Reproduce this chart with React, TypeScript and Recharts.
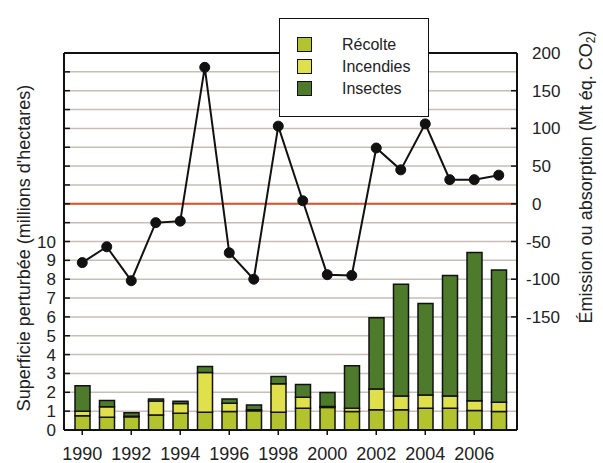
import React from 'react';
import {
  ComposedChart,
  Bar,
  Line,
  XAxis,
  YAxis,
  CartesianGrid,
  ReferenceLine,
  Legend,
} from 'recharts';

const FONT = '"Liberation Sans", Arial, Helvetica, sans-serif';

const years = ['1990', '1991', '1992', '1993', '1994', '1995', '1996', '1997', '1998', '1999', '2000', '2001', '2002', '2003', '2004', '2005', '2006', '2007'];
const recolte = [0.75, 0.68, 0.7, 0.8, 0.89, 0.94, 0.98, 1.02, 0.94, 1.16, 1.2, 0.98, 1.07, 1.07, 1.16, 1.16, 1.03, 0.98];
const incendies = [0.25, 0.56, 0.03, 0.74, 0.52, 2.11, 0.44, 0.05, 1.51, 0.58, 0.05, 0.18, 1.11, 0.74, 0.7, 0.65, 0.52, 0.49];
const insectes = [1.35, 0.32, 0.19, 0.1, 0.12, 0.32, 0.22, 0.26, 0.39, 0.67, 0.74, 2.25, 3.77, 5.92, 4.85, 6.39, 7.86, 7.02];
const emissions = [-78, -57, -102, -25, -23, 181, -65, -100, 103, 4, -94, -95, 74, 45, 106, 32, 32, 38];

const leftTicks = [0, 1, 2, 3, 4, 5, 6, 7, 8, 9, 10, 11, 12, 13, 14, 15, 16, 17, 18, 19, 20];
const rightTicks = [-150, -100, -50, 0, 50, 100, 150, 200];

const seriesNames = ['Récolte', 'Incendies', 'Insectes'];
const seriesColors = ['#b3c32e', '#dfe04c', '#4e7a2c'];

const data = years.map((y, i) => ({
  year: y,
  recolte: recolte[i],
  incendies: incendies[i],
  insectes: insectes[i],
  emission: emissions[i],
}));

const LegendBox = () => (
  <div
    style={{
      width: 150,
      height: 99,
      boxSizing: 'border-box',
      border: '1.5px solid #111',
      background: '#fff',
      position: 'relative',
      fontFamily: FONT,
    }}
  >
    {seriesNames.map((n, i) => (
      <div
        key={n}
        style={{
          position: 'absolute',
          left: 17,
          top: 18 + i * 22,
          height: 15,
          display: 'flex',
          alignItems: 'center',
        }}
      >
        <span
          style={{
            display: 'inline-block',
            width: 15,
            height: 15,
            background: seriesColors[i],
            border: '1.5px solid #111',
            boxSizing: 'border-box',
          }}
        />
        <span style={{ marginLeft: 30, fontSize: 16, color: '#222', lineHeight: '15px' }}>{n}</span>
      </div>
    ))}
  </div>
);

const LeftTitle = () => (
  <text
    x={24}
    y={248}
    transform="rotate(-90 24 248)"
    textAnchor="middle"
    dominantBaseline="central"
    fontSize={18}
    fill="#222"
    fontFamily={FONT}
  >
    Superficie perturbée (millions d'hectares)
  </text>
);

const RightTitle = () => (
  <text
    x={586}
    y={177}
    transform="rotate(-90 586 177)"
    textAnchor="middle"
    dominantBaseline="central"
    fontSize={18}
    fill="#222"
    fontFamily={FONT}
  >
    Émission ou absorption (Mt éq. CO
    <tspan dy={5} fontSize={12}>2</tspan>
    <tspan dy={-5}>)</tspan>
  </text>
);

const RightTick = (props: any) => {
  const { x, y, payload } = props;
  const v = payload.value;
  return (
    <text x={v < 0 ? x - 6 : x} y={y} dy={6} textAnchor="start" fontSize={17} fill="#222" fontFamily={FONT}>
      {v}
    </text>
  );
};

export default function App() {
  return (
    <div style={{ position: 'absolute', left: 0, top: 0, width: 603, height: 463, background: '#fff', fontFamily: FONT }}>
      <ComposedChart width={603} height={463} data={data} margin={{ top: 53, right: 0, bottom: 0, left: 0 }}>
        <CartesianGrid yAxisId="left" vertical={false} stroke="#c9bdb7" strokeWidth={1.5} />
        <XAxis
          dataKey="year"
          type="category"
          interval={1}
          height={33}
          padding={{ left: 6, right: 6 }}
          tickSize={5}
          tickMargin={12}
          axisLine={{ stroke: '#111', strokeWidth: 2 }}
          tickLine={{ stroke: '#111', strokeWidth: 1.5 }}
          tick={{ fill: '#222', fontSize: 18, fontFamily: FONT }}
        />
        <YAxis
          yAxisId="left"
          orientation="left"
          width={64}
          domain={[0, 20]}
          ticks={leftTicks}
          interval={0}
          allowDataOverflow
          tickSize={-6}
          tickMargin={14}
          tickFormatter={(v: number) => (v <= 10 ? String(v) : '')}
          axisLine={{ stroke: '#111', strokeWidth: 2 }}
          tickLine={{ stroke: '#111', strokeWidth: 1.5 }}
          tick={{ fill: '#222', fontSize: 17, fontFamily: FONT }}
          label={<LeftTitle />}
        />
        <YAxis
          yAxisId="right"
          orientation="right"
          width={86}
          domain={[-300, 200]}
          ticks={rightTicks}
          interval={0}
          allowDataOverflow
          tickSize={-6}
          tickMargin={21}
          axisLine={{ stroke: '#111', strokeWidth: 2 }}
          tickLine={{ stroke: '#111', strokeWidth: 1.5 }}
          tick={<RightTick />}
          label={<RightTitle />}
        />
        <ReferenceLine yAxisId="left" y={20} stroke="#111" strokeWidth={2} />
        <ReferenceLine yAxisId="right" y={0} stroke="#e0502a" strokeWidth={2} />
        <Bar yAxisId="left" dataKey="recolte" name={seriesNames[0]} stackId="a" fill={seriesColors[0]} stroke="#111" strokeWidth={1.5} barSize={15} isAnimationActive={false} />
        <Bar yAxisId="left" dataKey="incendies" name={seriesNames[1]} stackId="a" fill={seriesColors[1]} stroke="#111" strokeWidth={1.5} barSize={15} isAnimationActive={false} />
        <Bar yAxisId="left" dataKey="insectes" name={seriesNames[2]} stackId="a" fill={seriesColors[2]} stroke="#111" strokeWidth={1.5} barSize={15} isAnimationActive={false} />
        <Line
          yAxisId="right"
          dataKey="emission"
          type="linear"
          stroke="#111"
          strokeWidth={2}
          dot={{ r: 5, fill: '#111', stroke: '#111', strokeWidth: 1 }}
          activeDot={false}
          legendType="none"
          isAnimationActive={false}
        />
        <Legend
          layout="vertical"
          align="center"
          verticalAlign="middle"
          wrapperStyle={{ left: 279, top: 18, width: 150, height: 99 }}
          content={<LegendBox />}
        />
      </ComposedChart>
    </div>
  );
}
